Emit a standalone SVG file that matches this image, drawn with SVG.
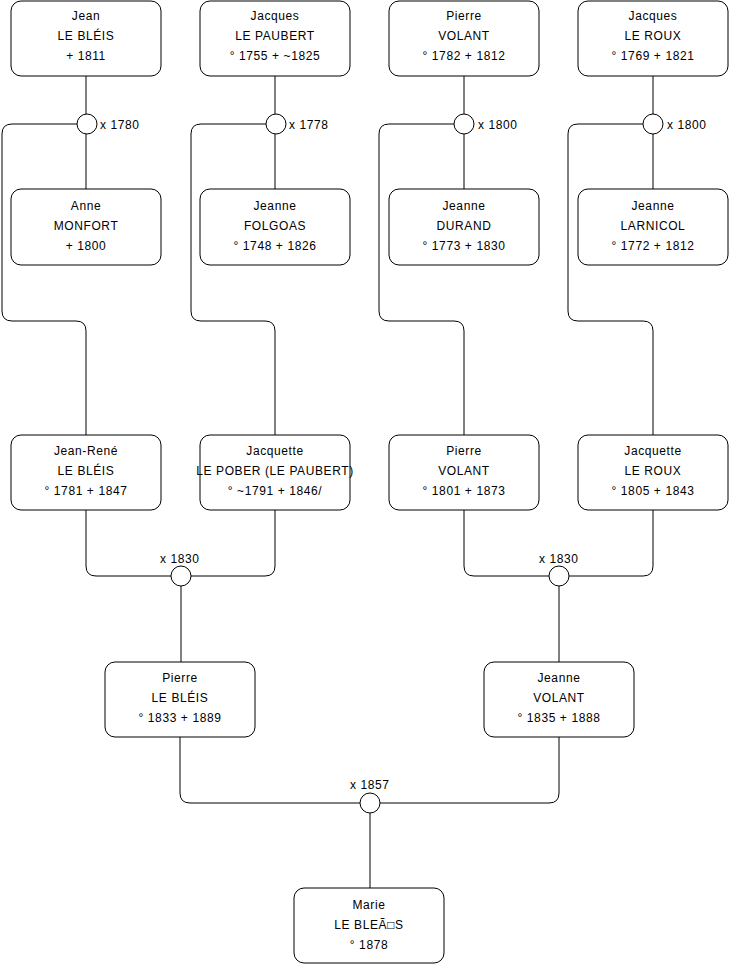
<svg xmlns="http://www.w3.org/2000/svg" width="740" height="975" viewBox="0 0 740 975">
<style>
.n rect{fill:#fff;stroke:#000;stroke-width:1}
.n text,.lbl{font-family:"Liberation Sans",Arial,sans-serif;font-size:12px;fill:#000;letter-spacing:0.6px}
.n text{text-anchor:middle}
.c path{fill:none;stroke:#000;stroke-width:1}
.c circle{fill:#fff;stroke:#000;stroke-width:1}
</style>
<rect width="740" height="975" fill="#fff"/>
<g id="connectors" class="c">
<path d="M86,76 V114 M86,134 V189"/>
<path d="M77,124 H12 Q2,124 2,134 V311 Q2,321 12,321 H76 Q86,321 86,331 V435"/>
<circle cx="87" cy="124" r="10"/>
<path d="M275,76 V114 M275,134 V189"/>
<path d="M266,124 H201 Q191,124 191,134 V311 Q191,321 201,321 H265 Q275,321 275,331 V435"/>
<circle cx="276" cy="124" r="10"/>
<path d="M464,76 V114 M464,134 V189"/>
<path d="M454,124 H389 Q379,124 379,134 V311 Q379,321 389,321 H454 Q464,321 464,331 V435"/>
<circle cx="464" cy="124" r="10"/>
<path d="M653,76 V114 M653,134 V189"/>
<path d="M643,124 H578 Q568,124 568,134 V311 Q568,321 578,321 H643 Q653,321 653,331 V435"/>
<circle cx="653" cy="124" r="10"/>
<path d="M86,510 V566 Q86,576 96,576 H171 M275,510 V566 Q275,576 265,576 H191 M181,586 V662"/>
<circle cx="181" cy="576" r="10"/>
<path d="M464,510 V566 Q464,576 474,576 H549 M653,510 V566 Q653,576 643,576 H569 M559,586 V662"/>
<circle cx="559" cy="576" r="10"/>
<path d="M180,737 V793 Q180,803 190,803 H360 M559,737 V793 Q559,803 549,803 H380 M370,813 V888"/>
<circle cx="370" cy="803" r="10"/>
<text class="lbl" x="100" y="128.5">x 1780</text>
<text class="lbl" x="289" y="128.5">x 1778</text>
<text class="lbl" x="478" y="128.5">x 1800</text>
<text class="lbl" x="667" y="128.5">x 1800</text>
<text class="lbl" x="160" y="562.5">x 1830</text>
<text class="lbl" x="539" y="562.5">x 1830</text>
<text class="lbl" x="350" y="789">x 1857</text>
</g>
<g id="jean" class="n"><rect x="11" y="1" width="150" height="75" rx="10"/><text x="86" y="20">Jean</text><text x="86" y="40">LE BLÉIS</text><text x="86" y="60">+ 1811</text></g>
<g id="jacques-paubert" class="n"><rect x="200" y="1" width="150" height="75" rx="10"/><text x="275" y="20">Jacques</text><text x="275" y="40">LE PAUBERT</text><text x="275" y="60">° 1755 + ~1825</text></g>
<g id="pierre-volant-1" class="n"><rect x="389" y="1" width="150" height="75" rx="10"/><text x="464" y="20">Pierre</text><text x="464" y="40">VOLANT</text><text x="464" y="60">° 1782 + 1812</text></g>
<g id="jacques-roux" class="n"><rect x="578" y="1" width="150" height="75" rx="10"/><text x="653" y="20">Jacques</text><text x="653" y="40">LE ROUX</text><text x="653" y="60">° 1769 + 1821</text></g>
<g id="anne" class="n"><rect x="11" y="189" width="150" height="76" rx="10"/><text x="86" y="210">Anne</text><text x="86" y="230">MONFORT</text><text x="86" y="250">+ 1800</text></g>
<g id="jeanne-folgoas" class="n"><rect x="200" y="189" width="150" height="76" rx="10"/><text x="275" y="210">Jeanne</text><text x="275" y="230">FOLGOAS</text><text x="275" y="250">° 1748 + 1826</text></g>
<g id="jeanne-durand" class="n"><rect x="389" y="189" width="150" height="76" rx="10"/><text x="464" y="210">Jeanne</text><text x="464" y="230">DURAND</text><text x="464" y="250">° 1773 + 1830</text></g>
<g id="jeanne-larnicol" class="n"><rect x="578" y="189" width="150" height="76" rx="10"/><text x="653" y="210">Jeanne</text><text x="653" y="230">LARNICOL</text><text x="653" y="250">° 1772 + 1812</text></g>
<g id="jean-rene" class="n"><rect x="11" y="435" width="150" height="75" rx="10"/><text x="86" y="455">Jean-René</text><text x="86" y="475">LE BLÉIS</text><text x="86" y="495">° 1781 + 1847</text></g>
<g id="jacquette-pober" class="n"><rect x="200" y="435" width="150" height="75" rx="10"/><text x="275" y="455">Jacquette</text><text x="275" y="475">LE POBER (LE PAUBERT)</text><text x="275" y="495">° ~1791 + 1846/</text></g>
<g id="pierre-volant-2" class="n"><rect x="389" y="435" width="150" height="75" rx="10"/><text x="464" y="455">Pierre</text><text x="464" y="475">VOLANT</text><text x="464" y="495">° 1801 + 1873</text></g>
<g id="jacquette-roux" class="n"><rect x="578" y="435" width="150" height="75" rx="10"/><text x="653" y="455">Jacquette</text><text x="653" y="475">LE ROUX</text><text x="653" y="495">° 1805 + 1843</text></g>
<g id="pierre-bleis" class="n"><rect x="105" y="662" width="150" height="75" rx="10"/><text x="180" y="682">Pierre</text><text x="180" y="702">LE BLÉIS</text><text x="180" y="722">° 1833 + 1889</text></g>
<g id="jeanne-volant" class="n"><rect x="484" y="662" width="150" height="75" rx="10"/><text x="559" y="682">Jeanne</text><text x="559" y="702">VOLANT</text><text x="559" y="722">° 1835 + 1888</text></g>
<g id="marie" class="n"><rect x="294" y="888" width="150" height="75" rx="10"/><text x="369" y="909">Marie</text><text x="369" y="929">LE BLEÃ□S</text><text x="369" y="949">° 1878</text></g>
</svg>
